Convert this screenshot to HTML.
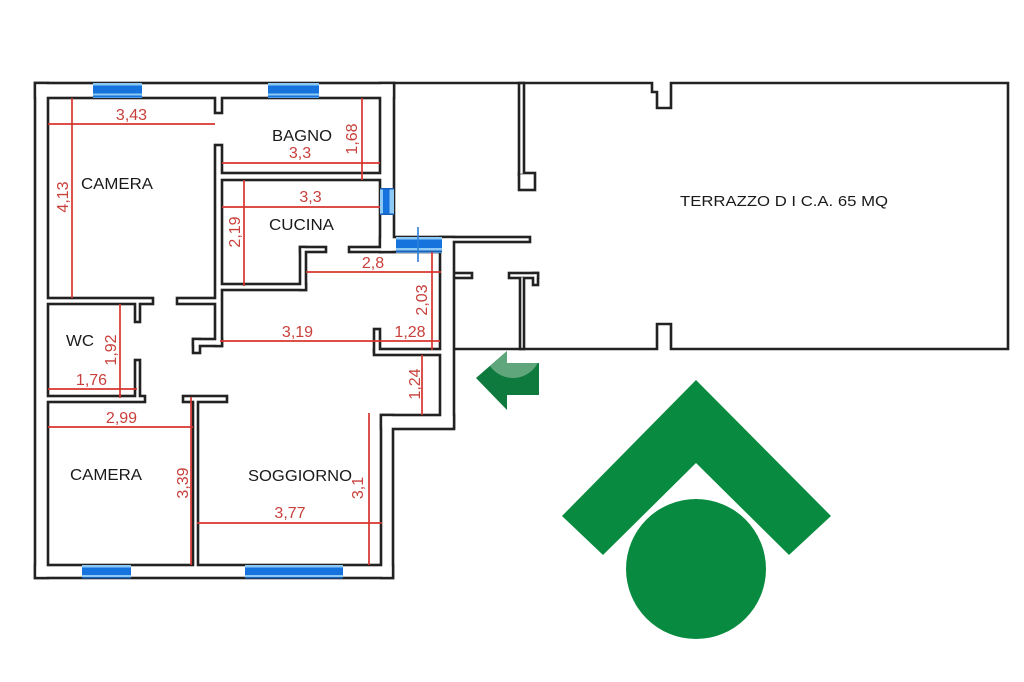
<!DOCTYPE html>
<html>
<head>
<meta charset="utf-8">
<style>
html,body{margin:0;padding:0;background:#fff;}
svg{display:block;}
.r{fill:#c8403c;font-family:"Liberation Sans",Arial,sans-serif;font-size:16px;}
.b{fill:#1a1a1a;font-family:"Liberation Sans",Arial,sans-serif;font-size:16px;}
</style>
</head>
<body>
<svg width="1024" height="682" viewBox="0 0 1024 682" xmlns="http://www.w3.org/2000/svg">
<defs>
<g id="w">
<rect x="36.3" y="84.3" width="356.4" height="12.4"/>
<rect x="36.3" y="84.3" width="10.4" height="492.4"/>
<rect x="36.3" y="566.3" width="355.4" height="10.4"/>
<rect x="381.3" y="84.3" width="11.4" height="166.4"/>
<rect x="381.3" y="238.3" width="58.4" height="12.4"/>
<rect x="442.3" y="238.3" width="86.4" height="2.4"/>
<rect x="441.3" y="238.3" width="11.4" height="188.4"/>
<rect x="382.3" y="416.3" width="70.4" height="11.4"/>
<rect x="382.3" y="416.3" width="9.4" height="160.4"/>
<rect x="216.3" y="96.3" width="4.4" height="15.4"/>
<rect x="216.3" y="146.3" width="4.4" height="198.4"/>
<rect x="219.3" y="174.3" width="162.4" height="4.4"/>
<rect x="301.3" y="248.3" width="3.4" height="40.4"/>
<rect x="301.3" y="248.3" width="23.4" height="2.4"/>
<rect x="219.3" y="285.3" width="85.4" height="3.4"/>
<rect x="350.3" y="248.3" width="31.4" height="2.4"/>
<rect x="46.3" y="299.3" width="105.4" height="3.4"/>
<rect x="178.3" y="299.3" width="38.4" height="3.4"/>
<rect x="136.3" y="302.3" width="2.4" height="18.4"/>
<rect x="194.3" y="340.3" width="26.4" height="4.4"/>
<rect x="194.3" y="340.3" width="4.4" height="11.4"/>
<rect x="136.3" y="361.3" width="2.4" height="36.4"/>
<rect x="46.3" y="397.3" width="97.4" height="3.4"/>
<rect x="184.3" y="397.3" width="41.4" height="3.4"/>
<rect x="194.3" y="400.3" width="2.4" height="166.4"/>
<rect x="375.3" y="350.3" width="66.4" height="3.4"/>
<rect x="375.3" y="330.3" width="3.4" height="20.4"/>
<rect x="455.3" y="274.3" width="15.4" height="2.4"/>
<rect x="510.3" y="274.3" width="26.4" height="2.4"/>
<rect x="534.3" y="274.3" width="2.4" height="9.4"/>
<rect x="521.3" y="277.3" width="1.4" height="70.4"/>
<rect x="520.3" y="84.3" width="2.4" height="89.4"/>
<rect x="520.3" y="174.3" width="13.4" height="14.4"/>
</g>
<clipPath id="arr"><polygon points="476,378 507,351 507,363 539,363 539,395 507,395 507,410"/></clipPath>
</defs>

<rect width="1024" height="682" fill="#fff"/>

<!-- terrace outline -->
<path d="M394,83 H652 V92 H657 V108 H671 V83 H1008 V349 H671 V324 H657 V349 H454" fill="none" stroke="#222" stroke-width="2.6"/>

<!-- walls (union outline) -->
<use href="#w" fill="#222" stroke="#222" stroke-width="5.2"/>
<use href="#w" fill="#fff" stroke="none"/>

<!-- windows -->
<g>
  <rect x="93" y="83" width="49" height="15" fill="#8ccaf5"/>
  <rect x="93" y="85.5" width="49" height="8" fill="#1673de"/>
  <rect x="93" y="95.5" width="49" height="2" fill="#1673de"/>
  <rect x="268" y="83" width="51" height="15" fill="#8ccaf5"/>
  <rect x="268" y="85.5" width="51" height="8" fill="#1673de"/>
  <rect x="268" y="95.5" width="51" height="2" fill="#1673de"/>

  <rect x="82" y="565" width="49" height="13" fill="#8ccaf5"/>
  <rect x="82" y="567.5" width="49" height="7.5" fill="#1673de"/>
  <rect x="82" y="577" width="49" height="1.5" fill="#1a5fb8"/>
  <rect x="245" y="565" width="98" height="13" fill="#8ccaf5"/>
  <rect x="245" y="567.5" width="98" height="7.5" fill="#1673de"/>
  <rect x="245" y="577" width="98" height="1.5" fill="#1a5fb8"/>

  <rect x="380" y="188" width="14" height="27" fill="#8ccaf5"/>
  <rect x="383" y="188" width="6.5" height="27" fill="#1673de"/>
  <rect x="380" y="188" width="14" height="1.5" fill="#1a5fb8"/>
  <rect x="380" y="213.5" width="14" height="1.5" fill="#1a5fb8"/>

  <rect x="396" y="237" width="46" height="16" fill="#8ccaf5"/>
  <rect x="396" y="239.5" width="46" height="8.5" fill="#1673de"/>
  <rect x="396" y="250.5" width="46" height="2" fill="#1a5fb8"/>
  <line x1="418" y1="227" x2="418" y2="262" stroke="#2a7fd8" stroke-width="1.6"/>
</g>

<!-- red dimension lines -->
<g stroke="#d8342f" stroke-width="1.7" fill="none">
  <line x1="48" y1="124" x2="215" y2="124"/>
  <line x1="72" y1="98" x2="72" y2="298"/>
  <line x1="362" y1="98" x2="362" y2="180"/>
  <line x1="222" y1="163" x2="380" y2="163"/>
  <line x1="222" y1="207" x2="380" y2="207"/>
  <line x1="244" y1="180" x2="244" y2="286"/>
  <line x1="306" y1="272" x2="441" y2="272"/>
  <line x1="432" y1="252" x2="432" y2="350"/>
  <line x1="220" y1="341" x2="440" y2="341"/>
  <line x1="422" y1="355" x2="422" y2="415"/>
  <line x1="120" y1="304" x2="120" y2="398"/>
  <line x1="48" y1="389" x2="137" y2="389"/>
  <line x1="48" y1="427" x2="193" y2="427"/>
  <line x1="191" y1="397" x2="191" y2="565"/>
  <line x1="369" y1="413" x2="369" y2="565"/>
  <line x1="197" y1="523" x2="382" y2="523"/>
</g>

<!-- red dimension text -->
<g class="r" text-anchor="middle">
  <text x="131.5" y="120">3,43</text>
  <text x="300" y="158">3,3</text>
  <text x="310.5" y="202">3,3</text>
  <text x="373" y="268">2,8</text>
  <text x="297.5" y="337">3,19</text>
  <text x="410" y="337">1,28</text>
  <text x="91.5" y="385">1,76</text>
  <text x="121.5" y="423">2,99</text>
  <text x="290" y="518">3,77</text>
  <text transform="translate(68,197) rotate(-90)">4,13</text>
  <text transform="translate(357,139) rotate(-90)">1,68</text>
  <text transform="translate(240,232) rotate(-90)">2,19</text>
  <text transform="translate(427,300) rotate(-90)">2,03</text>
  <text transform="translate(420,384) rotate(-90)">1,24</text>
  <text transform="translate(116,350) rotate(-90)">1,92</text>
  <text transform="translate(188,483) rotate(-90)">3,39</text>
  <text transform="translate(363,488) rotate(-90)">3,1</text>
</g>

<!-- room labels -->
<g class="b">
  <text x="81" y="189" textLength="72" lengthAdjust="spacingAndGlyphs">CAMERA</text>
  <text x="272" y="141" textLength="60" lengthAdjust="spacingAndGlyphs">BAGNO</text>
  <text x="269" y="230" textLength="65" lengthAdjust="spacingAndGlyphs">CUCINA</text>
  <text x="66" y="346" textLength="28" lengthAdjust="spacingAndGlyphs">WC</text>
  <text x="70" y="480" textLength="72" lengthAdjust="spacingAndGlyphs">CAMERA</text>
  <text x="248" y="481" textLength="104" lengthAdjust="spacingAndGlyphs">SOGGIORNO</text>
  <text x="680" y="206" style="font-size:15px" textLength="208" lengthAdjust="spacingAndGlyphs">TERRAZZO D I C.A. 65 MQ</text>
</g>

<!-- entry arrow -->
<polygon points="476,378 507,351 507,363 539,363 539,395 507,395 507,410" fill="#0f7a3d"/>
<circle cx="513" cy="350" r="28" fill="#5fa67c" clip-path="url(#arr)"/>

<!-- logo -->
<polygon points="562,516 696,380 831,516 789,555 696,463 603,555" fill="#088b40"/>
<circle cx="696" cy="569" r="70" fill="#088b40"/>
</svg>
</body>
</html>
